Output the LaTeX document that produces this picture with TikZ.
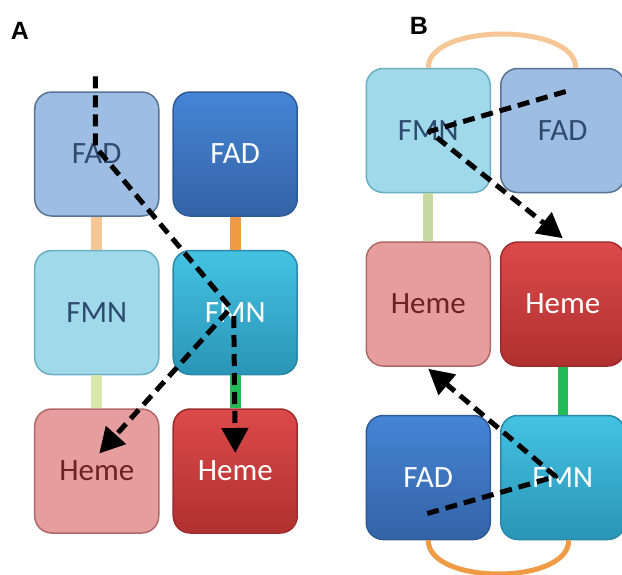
\documentclass[tikz,border=0pt]{standalone}
\usepackage{fontspec}
\setmainfont{Carlito}
\newfontfamily\panelfont{Liberation Sans}
\usetikzlibrary{matrix,arrows.meta}

\definecolor{fadpale}{HTML}{9DBDE3}
\definecolor{fadpaleedge}{HTML}{587395}
\definecolor{fadtop}{HTML}{4585D5}
\definecolor{fadbot}{HTML}{3463A6}
\definecolor{fadedge}{HTML}{2F5A96}
\definecolor{fmnpale}{HTML}{A0D9EA}
\definecolor{fmnpaleedge}{HTML}{6AAFC4}
\definecolor{fmntop}{HTML}{44C2E2}
\definecolor{fmnbot}{HTML}{2A95B6}
\definecolor{fmnedge}{HTML}{2A88A8}
\definecolor{hemepale}{HTML}{E69D9D}
\definecolor{hemepaleedge}{HTML}{B06868}
\definecolor{hemetop}{HTML}{DC4A4A}
\definecolor{hemebot}{HTML}{B03030}
\definecolor{hemeedge}{HTML}{9E2C2C}
\definecolor{bluetext}{HTML}{2E4A6E}
\definecolor{redtext}{HTML}{6B2222}
\definecolor{peach}{HTML}{F6C696}
\definecolor{amber}{HTML}{EF9A45}
\definecolor{lime}{HTML}{D8E8AC}
\definecolor{sage}{HTML}{C5D9A0}
\definecolor{leaf}{HTML}{22BB55}

\tikzset{
  cofactor/.style={rounded corners=17pt, minimum width=124pt, minimum height=124pt,
    inner sep=0pt, line width=1.5pt, font=\fontsize{31}{31}\selectfont},
  fadlight/.style={fill=fadpale, draw=fadpaleedge, text=bluetext},
  faddark/.style={top color=fadtop, bottom color=fadbot, draw=fadedge, text=white},
  fmnlight/.style={fill=fmnpale, draw=fmnpaleedge, text=bluetext},
  fmndark/.style={top color=fmntop, bottom color=fmnbot, draw=fmnedge, text=white},
  hemelight/.style={fill=hemepale, draw=hemepaleedge, text=redtext},
  hemedark/.style={top color=hemetop, bottom color=hemebot, draw=hemeedge, text=white},
  flow/.style={line width=5pt, dash pattern=on 12pt off 7pt, line join=round,
    -{Triangle[length=25pt,width=26pt]}},
  panel/.style={font=\panelfont\bfseries\fontsize{25}{25}\selectfont}
}

\begin{document}
\begin{tikzpicture}[x=1pt, y=1pt]
\useasboundingbox (0,0) rectangle (622,-575);

\node[panel] (la) at (20,-31) {A};
\node[panel] (lb) at (419,-26) {B};

% panel A
\matrix (ma) at (166,-312.5) [matrix of nodes, row sep=33pt, column sep=13pt, nodes={cofactor}]
{
	|[fadlight]| FAD  & |[faddark]| FAD  \\
	|[fmnlight]| FMN  & |[fmndark]| FMN  \\
	|[hemelight]| Heme & |[hemedark]| Heme \\
};
\path[line width=11pt]
(ma-1-1) edge[peach] (ma-2-1)
(ma-1-2) edge[amber] (ma-2-2)
(ma-2-1) edge[lime] (ma-3-1)
(ma-2-2) edge[leaf] (ma-3-2)
;

% panel B
\matrix (mb) at (495.5,-304) [matrix of nodes, row sep=48pt, column sep=9pt, nodes={cofactor}]
{
	|[fmnlight]| FMN  & |[fadlight]| FAD  \\
	|[hemelight]| Heme & |[hemedark]| Heme \\
	|[faddark]| FAD  & |[fmndark]| FMN  \\
};
\path[line width=10pt]
(mb-1-1) edge[sage] (mb-2-1)
(mb-2-2) edge[leaf] (mb-3-2)
;
\draw[line width=5pt, peach] (mb-1-1.north) .. controls +(0,45) and +(0,45) .. ([xshift=13pt]mb-1-2.north);
\draw[line width=5pt, amber] (mb-3-1.south) .. controls +(0,-45) and +(0,-45) .. ([xshift=6pt]mb-3-2.south);

% electron flow
\coordinate (a0) at ([shift={(-1.5,77.5)}]ma-1-1.center);
\coordinate (a1) at ([shift={(-1.5,7.5)}]ma-1-1.center);
\coordinate (a2) at ([shift={(-4.5,4.5)}]ma-2-2.center);
\coordinate (a3) at ([shift={(-1.5,-3.5)}]ma-2-2.center);
\draw[flow] (a0) -- (a1) -- (a2) -- ([shift={(2.5,17.5)}]ma-3-1.center);
\draw[flow] (a3) -- ([yshift=18pt]ma-3-2.center);

\coordinate (b0) at ([shift={(3,39)}]mb-1-2.center);
\coordinate (b1) at ([shift={(1,-1)}]mb-1-1.center);
\coordinate (b2) at ([shift={(-1,-36)}]mb-3-1.center);
\coordinate (b3) at ([shift={(-7,1)}]mb-3-2.center);
\draw[flow] (b0) -- (b1) -- ([yshift=3pt]mb-2-2.north);
\draw[flow] (b2) -- (b3) -- ([yshift=-2pt]mb-2-1.south);
\end{tikzpicture}
\end{document}
